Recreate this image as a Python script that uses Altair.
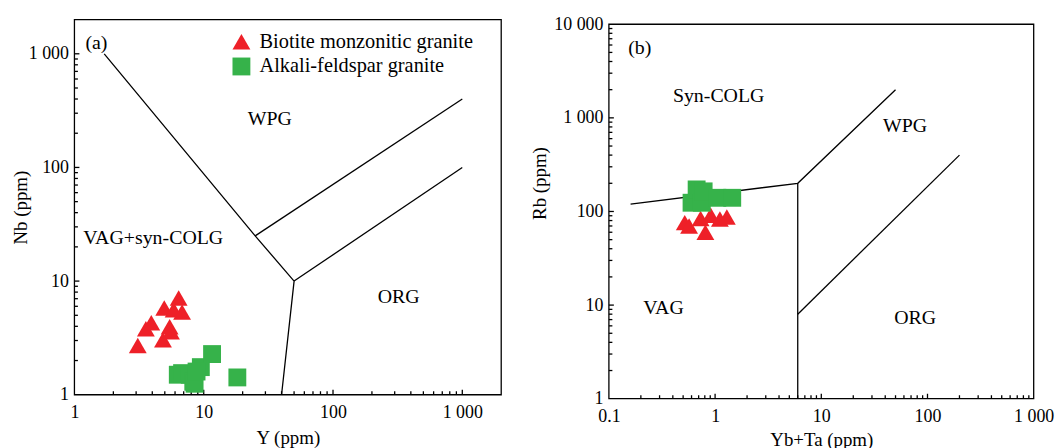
import altair as alt
import pandas as pd

RED = "#EE2028"
GREEN = "#36B24A"
FONT = "Liberation Serif"
S1 = "Biotite monzonitic granite"
S2 = "Alkali-feldspar granite"

# ---------------- Panel (a): Y vs Nb ----------------
a_bmg_y = [3.09, 3.57, 3.93, 4.95, 4.84, 5.58, 5.45, 6.4, 6.8, 5.85]
a_bmg_nb = [2.71, 3.8, 4.3, 5.8, 3.05, 3.58, 3.96, 7.1, 5.35, 5.6]
a_afg_y = [6.3, 6.8, 7.8, 8.3, 8.5, 9.5, 8.8, 11.6, 18.2]
a_afg_nb = [1.5, 1.55, 1.5, 1.3, 1.25, 1.75, 1.6, 2.28, 1.42]

a_seg1_x = [1.7, 25, 50, 40]
a_seg1_y = [1000, 25, 10, 1]
a_seg2_x = [25, 1000]
a_seg2_y = [25, 400]
a_seg3_x = [50, 1000]
a_seg3_y = [10, 100]

a_labels = ["(a)", "WPG", "VAG+syn-COLG", "ORG"]
a_label_x = [1.48, 32.5, 4.07, 322]
a_label_y = [1250, 265, 24.1, 7.2]

a_x_domain = [1, 2000]
a_y_domain = [1, 2000]
a_x_major = [10, 100, 1000]
a_y_major = [10, 100, 1000]
a_x_minor = [m * d for d in [1, 10, 100] for m in range(2, 10)]
a_y_minor = [m * d for d in [1, 10, 100] for m in range(2, 10)]
a_ticks = [1, 10, 100, 1000]

# ---------------- Panel (b): Yb+Ta vs Rb ----------------
b_bmg_x = [0.518, 0.569, 0.81, 1.11, 1.29, 0.73, 0.91]
b_bmg_rb = [76, 70, 60, 83, 87.5, 84, 91]
b_afg_x = [0.6, 0.67, 0.75, 0.78, 1.05, 1.45]
b_afg_rb = [124, 172, 124, 164, 140, 140]

b_seg1_x = [0.16, 6, 50]
b_seg1_y = [120, 200, 2000]
b_seg2_x = [6, 6]
b_seg2_y = [200, 1]
b_seg3_x = [6, 200]
b_seg3_y = [8, 400]

b_labels = ["(b)", "Syn-COLG", "WPG", "VAG", "ORG"]
b_label_x = [0.195, 1.08, 61.6, 0.327, 76.6]
b_label_y = [5530, 1715, 824, 9.27, 7.26]

# panel (b) frame sits 4.7 px lower than panel (a): the view is taller and the
# frame top is drawn at 10 000, so the scale runs slightly past it
B_FRAME_TOP = 4.7
B_H = 382
b_x_domain = [0.1, 1000]
b_y_domain = [1, 10 ** (4 * B_H / (B_H - B_FRAME_TOP))]
b_x_major = [1, 10, 100]
b_y_major = [10, 100, 1000]
b_x_minor = [round(m * d, 3) for d in [0.1, 1, 10, 100] for m in range(2, 10)]
b_y_minor = [m * d for d in [1, 10, 100, 1000] for m in range(2, 10)]
b_x_ticks = [0.1, 1, 10, 100, 1000]
b_y_ticks = [1, 10, 100, 1000, 10000]

LABEL_EXPR = "datum.value >= 1000 ? replace(format(datum.value, ','), ',', ' ') : format(datum.value, '~g')"


def panel(W, H, frame_top, xdom, ydom, xticks, yticks, xtitle, ytitle, ytitle_x, ytitle_y, xtitle_y,
          s1x, s1y, s2x, s2y, segs, labels, lx, ly, xmaj, xmin, ymaj, ymin, show_legend):
    xs = alt.Scale(type="log", domain=xdom, nice=False)
    ys = alt.Scale(type="log", domain=ydom, nice=False)
    xax = alt.Axis(values=xticks, labelExpr=LABEL_EXPR, title=xtitle, labelPadding=9,
                   titleY=xtitle_y, titleBaseline="alphabetic", labelFlush=False,
                   labelFont=FONT, labelFontSize=18, labelColor="black",
                   titleFont=FONT, titleFontSize=19, titleFontWeight="normal", titleColor="black",
                   ticks=False, domain=False, grid=False)
    yax = alt.Axis(values=yticks, labelExpr=LABEL_EXPR, title=ytitle, labelPadding=6,
                   titleX=ytitle_x, titleY=ytitle_y, titleBaseline="alphabetic",
                   labelFont=FONT, labelFontSize=18, labelColor="black",
                   titleFont=FONT, titleFontSize=19, titleFontWeight="normal", titleColor="black",
                   ticks=False, domain=False, grid=False)

    pts = pd.DataFrame({
        "x": list(s1x) + list(s2x),
        "y": list(s1y) + list(s2y),
        "series": [S1] * len(s1x) + [S2] * len(s2x),
        "ord": list(range(len(s1x) + len(s2x))),
    })
    rows = []
    for i, (sx, sy) in enumerate(segs):
        for j, (px, py) in enumerate(zip(sx, sy)):
            rows.append({"x": px, "y": py, "seg": i, "ord": j})
    lines_df = pd.DataFrame(rows)
    txt_df = pd.DataFrame({"x": lx, "y": ly, "t": labels})

    X = alt.X("x:Q", scale=xs, axis=xax)
    Y = alt.Y("y:Q", scale=ys, axis=yax)

    lines = alt.Chart(lines_df).mark_line(color="black", strokeWidth=1.3).encode(
        x=X, y=Y, detail="seg:N", order="ord:Q")

    frame = alt.Chart(pd.DataFrame({"f": [0]})).mark_rect(
        filled=False, stroke="black", strokeWidth=1.3, fillOpacity=0).encode(
        x=alt.value(0), x2=alt.value(W), y=alt.value(frame_top), y2=alt.value(H))

    if show_legend:
        leg = alt.Legend(title=None, orient="none", legendX=158, legendY=12,
                         labelFont=FONT, labelFontSize=20.5, labelColor="black", labelLimit=0,
                         symbolSize=324, labelOffset=8, rowPadding=4, padding=0,
                         symbolStrokeWidth=0, symbolOpacity=1)
    else:
        leg = None
    color = alt.Color("series:N", scale=alt.Scale(domain=[S1, S2], range=[RED, GREEN]), legend=leg)
    shape = alt.Shape("series:N", scale=alt.Scale(domain=[S1, S2], range=["triangle-up", "square"]), legend=leg)
    points = alt.Chart(pts).mark_point(filled=True, size=324, opacity=1, strokeWidth=0).encode(
        x="x:Q", y="y:Q", color=color, shape=shape, order="ord:Q")

    texts = alt.Chart(txt_df).mark_text(font=FONT, fontSize=20, color="black").encode(
        x="x:Q", y="y:Q", text="t:N")

    def xt(vals, ln):
        return alt.Chart(pd.DataFrame({"x": vals})).mark_rule(color="black", strokeWidth=1.3).encode(
            x="x:Q", y=alt.value(H), y2=alt.value(H - ln))

    def yt(vals, ln):
        return alt.Chart(pd.DataFrame({"y": vals})).mark_rule(color="black", strokeWidth=1.3).encode(
            y="y:Q", x=alt.value(0), x2=alt.value(ln))

    return alt.layer(lines, frame, xt(xmaj, 5), xt(xmin, 3.5), yt(ymaj, 5), yt(ymin, 3.5),
                     points, texts).properties(width=W, height=H)


pa = panel(430, 378, 0, a_x_domain, a_y_domain, a_ticks, a_ticks, "Y (ppm)", "Nb (ppm)", -48.5, 189, 49.5,
           a_bmg_y, a_bmg_nb, a_afg_y, a_afg_nb,
           [(a_seg1_x, a_seg1_y), (a_seg2_x, a_seg2_y), (a_seg3_x, a_seg3_y)],
           a_labels, a_label_x, a_label_y, a_x_major, a_x_minor, a_y_major, a_y_minor, True)
pb = panel(428, B_H, B_FRAME_TOP, b_x_domain, b_y_domain, b_x_ticks, b_y_ticks, "Yb+Ta (ppm)", "Rb (ppm)",
           -63.5, 164.7, 46.7,
           b_bmg_x, b_bmg_rb, b_afg_x, b_afg_rb,
           [(b_seg1_x, b_seg1_y), (b_seg2_x, b_seg2_y), (b_seg3_x, b_seg3_y)],
           b_labels, b_label_x, b_label_y, b_x_major, b_x_minor, b_y_major, b_y_minor, False)

chart = alt.hconcat(pa, pb, spacing=28.5, bounds="full").resolve_scale(
    x="independent", y="independent", color="independent", shape="independent"
).properties(
    padding={"left": 11, "top": 13, "right": 5, "bottom": 5},
    background="white",
).configure_view(stroke=None)

chart.save("out.html", embed_options={"renderer": "svg", "actions": False})
